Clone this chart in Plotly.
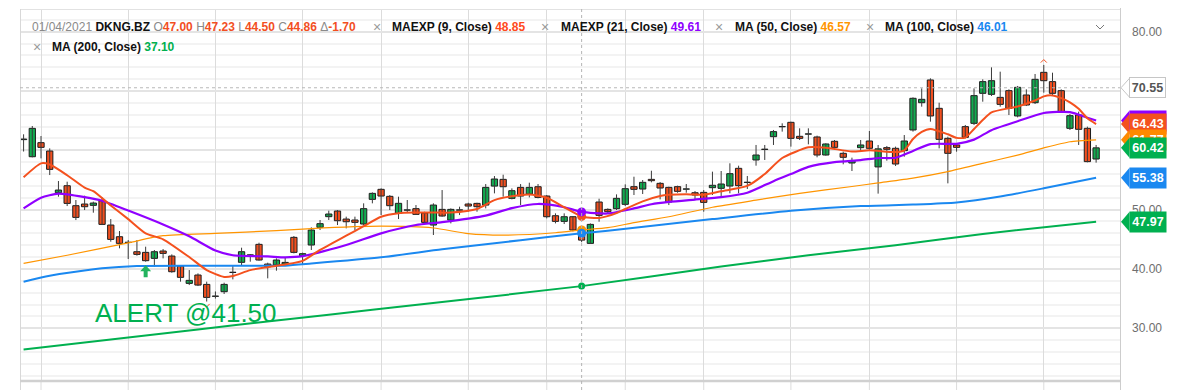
import plotly.graph_objects as go

# ---------------- data ----------------
SYMBOL = "DKNG.BZ"
CROSS_DATE = "01/04/2021"
CROSS_BAR = 64
CROSS_LEVEL = 70.55

OPEN = [61.80, 58.92, 61.29, 59.88, 52.85, 54.03, 50.66, 50.94, 50.72, 51.50,
        47.40, 45.43, 44.45, 42.90, 42.79, 41.78, 43.02, 42.17, 40.49, 37.56,
        38.97, 37.39, 35.38, 36.16, 39.40, 41.11, 42.32, 44.14, 40.82, 40.66,
        40.82, 45.32, 42.23, 44.03, 47.01, 48.81, 49.76, 48.41, 48.25, 47.57,
        51.73, 53.42, 52.24, 49.37, 49.91, 50.16, 49.43, 47.40, 50.04, 48.24,
        49.91, 50.94, 51.05, 50.77, 53.97, 55.10, 51.90, 53.75, 52.63, 53.86,
        52.29, 48.97, 48.02, 48.80, 47.00, 44.31, 51.28, 50.04, 50.16, 50.89,
        53.87, 53.47, 55.10, 54.43, 53.75, 53.87, 53.45, 52.85, 52.91, 53.70,
        53.59, 53.98, 56.96, 54.58, 58.37, 60.15, 62.30, 63.97, 64.72, 62.36,
        62.73, 62.25, 59.21, 61.52, 59.49, 57.86, 60.45, 61.57, 57.20, 60.45,
        60.34, 59.94, 63.43, 68.03, 71.86, 67.08, 62.02, 60.90, 63.99, 64.55,
        69.61, 69.44, 68.93, 70.06, 65.79, 69.33, 68.03, 73.15, 71.58, 70.06,
        63.71, 65.96, 63.71, 58.53]
HIGH = [62.70, 64.10, 62.41, 60.33, 54.82, 54.71, 51.62, 52.35, 51.34, 52.07,
        48.41, 46.39, 44.87, 44.87, 43.75, 43.19, 43.35, 42.45, 40.66, 39.81,
        39.25, 37.85, 36.20, 37.68, 40.66, 43.58, 42.51, 44.42, 41.05, 41.78,
        41.95, 45.55, 42.74, 47.01, 48.25, 49.82, 49.93, 48.81, 48.81, 51.06,
        52.91, 53.59, 52.46, 52.18, 51.62, 50.77, 49.65, 51.06, 53.30, 50.21,
        50.49, 51.16, 51.16, 54.31, 55.66, 55.89, 53.58, 54.31, 54.54, 54.31,
        52.46, 49.37, 49.37, 48.92, 47.23, 47.68, 51.84, 50.21, 52.57, 54.26,
        55.55, 54.99, 56.56, 54.65, 53.87, 54.04, 54.32, 53.13, 53.30, 56.40,
        56.51, 57.81, 57.41, 55.67, 60.90, 60.90, 63.43, 64.55, 64.83, 63.71,
        63.71, 62.47, 61.18, 61.74, 59.77, 58.76, 61.74, 63.26, 60.90, 60.73,
        60.62, 62.58, 68.93, 70.45, 72.14, 68.03, 62.30, 61.18, 64.27, 70.45,
        71.97, 73.99, 73.26, 70.28, 70.85, 70.28, 72.87, 74.40, 73.09, 70.28,
        66.12, 66.52, 63.99, 60.90]
LOW = [59.80, 58.81, 58.64, 55.83, 52.18, 50.60, 48.24, 49.93, 49.48, 47.40,
       44.59, 43.47, 41.67, 42.23, 41.22, 40.37, 41.78, 39.36, 37.85, 37.28,
       37.11, 34.50, 35.00, 35.77, 38.24, 40.66, 41.22, 41.39, 38.41, 39.70,
       40.66, 42.62, 40.66, 43.19, 46.56, 48.25, 47.40, 46.84, 46.56, 47.40,
       51.06, 49.09, 49.93, 48.41, 49.54, 49.09, 47.68, 45.72, 48.80, 47.68,
       49.08, 49.65, 49.65, 50.21, 52.74, 52.18, 51.73, 50.77, 52.06, 51.90,
       48.52, 47.68, 47.57, 46.33, 44.50, 44.20, 47.96, 49.26, 49.93, 50.61,
       52.46, 52.63, 54.60, 51.73, 50.77, 52.85, 52.85, 51.73, 49.65, 52.47,
       52.19, 52.75, 52.75, 53.48, 57.41, 58.37, 60.90, 63.15, 60.62, 61.74,
       61.01, 58.82, 59.10, 60.06, 57.64, 56.51, 59.77, 60.06, 52.70, 58.25,
       57.35, 58.93, 63.15, 67.36, 64.83, 60.33, 54.43, 59.77, 62.02, 64.27,
       68.20, 69.16, 67.36, 65.95, 65.56, 67.47, 67.81, 69.72, 69.16, 66.35,
       63.43, 60.90, 57.97, 57.92]
CLOSE = [61.90, 63.70, 60.50, 56.79, 53.30, 51.05, 48.69, 50.49, 51.11, 47.51,
         44.98, 44.31, 44.50, 42.45, 41.39, 42.90, 42.62, 39.53, 38.58, 38.07,
         37.28, 35.20, 35.42, 37.39, 39.44, 42.90, 42.36, 41.50, 40.37, 41.50,
         41.10, 42.79, 42.57, 46.56, 47.63, 49.26, 48.13, 47.96, 47.85, 50.16,
         52.74, 52.29, 50.66, 51.06, 49.95, 49.20, 47.85, 50.77, 48.92, 50.04,
         49.95, 50.60, 50.49, 53.75, 55.16, 53.86, 53.19, 52.29, 53.75, 52.06,
         48.80, 48.02, 48.80, 46.56, 44.86, 47.51, 49.03, 49.65, 51.90, 53.53,
         53.42, 54.60, 54.88, 53.64, 51.28, 53.08, 53.49, 52.46, 51.22, 54.10,
         54.32, 56.06, 54.04, 54.62, 59.21, 60.19, 63.15, 64.01, 62.02, 62.02,
         62.77, 59.21, 61.07, 60.50, 58.82, 58.26, 60.90, 60.34, 60.25, 60.17,
         57.69, 61.57, 68.77, 68.60, 65.79, 61.85, 59.49, 60.50, 62.19, 69.22,
         71.58, 71.74, 67.75, 67.08, 70.62, 67.64, 71.97, 71.74, 69.61, 66.52,
         65.84, 63.54, 58.09, 60.42]
BARS = list(range(len(CLOSE)))

EMA9_BAR = [0, 2, 3, 5, 7, 8, 10, 12, 14, 16, 19, 21, 23, 24, 26, 28, 30, 32, 34, 37,
            39, 41, 43, 45, 47, 49, 52, 54, 56, 58, 60, 62, 64, 66, 68, 69, 71, 73, 74, 76,
            78, 80, 83, 85, 87, 90, 92, 95, 97, 100, 101, 102, 103, 104, 106, 107, 108, 109, 110, 111,
            114, 116, 117, 118, 119, 120, 121, 122, 123]
EMA9_VAL = [55.45, 57.8, 57.6, 55.8, 53.7, 53.1, 50.7, 48.4, 46.0, 45.0, 42.0, 39.8, 38.65, 38.8, 39.8, 40.3, 40.75, 41.35, 43.2, 45.6,
            47.2, 48.8, 49.4, 49.5, 49.5, 49.5, 50.1, 51.6, 52.25, 52.55, 52.0, 50.4, 48.85, 48.6, 49.4, 50.1, 51.4, 52.3, 52.5, 52.6,
            52.5, 53.1, 54.0, 56.0, 58.7, 60.5, 60.45, 59.8, 60.0, 59.7, 60.0, 61.9, 63.1, 63.6, 62.7, 62.1, 62.15, 63.6, 65.1, 66.4,
            67.4, 68.4, 69.1, 69.25, 68.8, 68.1, 67.0, 65.4, 64.43]

EMA21_BAR = [0, 2, 4, 7, 9, 12, 16, 19, 22, 24, 28, 30, 32, 37, 41, 45, 48, 53, 56, 59,
             62, 64, 67, 70, 72, 74, 77, 80, 83, 86, 88, 90, 93, 96, 98, 100, 102, 104, 107, 109,
             111, 114, 117, 120, 122, 123]
EMA21_VAL = [50.2, 52.0, 52.7, 52.1, 51.5, 49.85, 47.5, 45.5, 43.1, 42.3, 42.1, 41.95, 42.15, 44.03, 46.0, 47.4, 47.9, 49.0, 50.25, 50.95,
             50.4, 49.61, 49.35, 50.2, 50.9, 51.3, 51.7, 52.1, 52.85, 54.8, 56.0, 57.2, 58.0, 58.35, 58.7, 58.75, 59.9, 61.05, 61.1, 61.8,
             63.4, 64.9, 66.3, 66.45, 65.5, 65.02]

MA50_BAR = [0, 5, 12, 16, 22, 29, 33, 41, 47, 51, 55, 61, 64, 67, 70, 74, 79, 84, 89, 95,
            98, 102, 106, 110, 114, 117, 120, 123]
MA50_VAL = [40.95, 42.3, 44.4, 45.6, 46.0, 46.45, 46.8, 47.2, 46.9, 45.95, 45.7, 46.1, 46.57, 46.95, 47.8, 48.8, 50.4, 51.6, 52.75, 53.9,
            54.5, 55.3, 56.4, 57.8, 59.2, 60.4, 61.45, 61.77]

MA100_BAR = [0, 3, 9, 13, 20, 30, 33, 41, 48, 57, 64, 67, 79, 88, 96, 102, 107, 112, 117, 123]
MA100_VAL = [37.85, 38.85, 40.1, 40.5, 40.55, 40.55, 40.9, 41.95, 43.3, 44.85, 46.01, 46.45, 48.4, 49.8, 50.6, 50.85, 51.2, 52.2, 53.6, 55.38]

MA200_BAR = [0, 20, 29, 40, 64, 80, 90, 100, 110, 123]
MA200_VAL = [26.4, 29.8, 31.3, 33.1, 37.10, 40.4, 42.3, 44.0, 45.9, 47.97]

GRID_BARS = [2, 12, 22, 32, 41, 51, 60, 69, 78, 88, 97, 107, 117]
Y_TICKS = [30, 40, 50, 60, 70, 80]

ALERT_TEXT = "ALERT @41.50"
ALERT_BAR = 14
ALERT_TIP = 40.6
HIGH_MARK = (117, 75.3)
LOW_MARK = (21, 33.6)

# ---------------- styling / geometry ----------------
FONT = "Liberation Sans, Arial, Helvetica, sans-serif"
UP, DOWN = "#12ab50", "#f24f1f"
C_EMA9, C_EMA21, C_MA50, C_MA100, C_MA200 = "#f4511e", "#9000ff", "#ff9500", "#1a88f0", "#00b04f"
GRAY = "#8a8a8a"

OFF = 8                      # page body margin of the html page
W, H = 1199 - OFF, 390 - OFF
ML, MT = 20 - OFF, 9 - OFF
PW, PH = 1100, 372
MR, MB = W - ML - PW, H - MT - PH
Y_RANGE = [21.1, 83.83]
X_RANGE = [-0.41, 125.74]
DATA_PER_PX = (Y_RANGE[1] - Y_RANGE[0]) / PH
BAR_PER_PX = (X_RANGE[1] - X_RANGE[0]) / PW


def xp(px):  # screen pixel -> paper x
    return (px - OFF - ML) / PW


def yp(py):  # screen pixel -> paper y
    return (H - MB - (py - OFF)) / PH


def at(bars, vals, b):
    return vals[bars.index(b)]


fig = go.Figure()

# wicks
wx, wy = [], []
for i, lo, hi in zip(BARS, LOW, HIGH):
    wx += [i, i, None]
    wy += [lo, hi, None]
fig.add_trace(go.Scatter(x=wx, y=wy, mode="lines", line=dict(color="#3a3a3a", width=1),
                         hoverinfo="skip", showlegend=False))

# bodies
base = [min(o, c) for o, c in zip(OPEN, CLOSE)]
height = [max(abs(c - o), 0.04) for o, c in zip(OPEN, CLOSE)]
colors = [UP if c >= o else DOWN for o, c in zip(OPEN, CLOSE)]
fig.add_trace(go.Bar(x=BARS, y=height, base=base, width=0.72,
                     marker=dict(color=colors, line=dict(color="#1c1c1c", width=1)),
                     hoverinfo="skip", showlegend=False))

# studies
for bars, vals, col, wd in [(MA200_BAR, MA200_VAL, C_MA200, 2),
                            (MA100_BAR, MA100_VAL, C_MA100, 2),
                            (MA50_BAR, MA50_VAL, C_MA50, 1.2),
                            (EMA21_BAR, EMA21_VAL, C_EMA21, 2.2),
                            (EMA9_BAR, EMA9_VAL, C_EMA9, 2)]:
    fig.add_trace(go.Scatter(x=bars, y=vals, mode="lines",
                             line=dict(color=col, width=wd, shape="spline", smoothing=0.6),
                             hoverinfo="skip", showlegend=False))

# crosshair dots
for bars, vals, col, sz in [(MA200_BAR, MA200_VAL, C_MA200, 7),
                            (EMA9_BAR, EMA9_VAL, C_EMA9, 9),
                            (EMA21_BAR, EMA21_VAL, C_EMA21, 9),
                            (MA50_BAR, MA50_VAL, C_MA50, 9),
                            (MA100_BAR, MA100_VAL, C_MA100, 9)]:
    fig.add_trace(go.Scatter(x=[CROSS_BAR], y=[at(bars, vals, CROSS_BAR)], mode="markers",
                             marker=dict(color=col, size=sz), hoverinfo="skip", showlegend=False))

shapes = []
ann = []

# frame lines
shapes.append(dict(type="line", xref="paper", yref="paper", x0=0, x1=1, y0=yp(9.5), y1=yp(9.5),
                   line=dict(color="#e2e2e2", width=1)))
shapes.append(dict(type="line", xref="paper", yref="paper", x0=xp(20.5), x1=xp(20.5), y0=yp(390), y1=yp(9),
                   line=dict(color="#d8d8d8", width=1)))
shapes.append(dict(type="line", xref="paper", yref="paper", x0=xp(1120.5), x1=xp(1120.5), y0=yp(390), y1=yp(8),
                   line=dict(color="#cdcdcd", width=1)))
for g in GRID_BARS:
    shapes.append(dict(type="line", xref="x", yref="paper", x0=g, x1=g, y0=yp(390), y1=0,
                       line=dict(color="#dcdcdc", width=1)))
shapes.append(dict(type="line", xref="paper", yref="paper", x0=0, x1=1, y0=yp(381), y1=yp(381),
                   line=dict(color="#d0d0d0", width=2.5)))

# crosshair
shapes.append(dict(type="line", xref="x", yref="paper", x0=CROSS_BAR, x1=CROSS_BAR, y0=yp(390), y1=1,
                   line=dict(color="#b4b4b4", width=1, dash="dot")))
shapes.append(dict(type="line", xref="paper", yref="y", x0=0, x1=1, y0=CROSS_LEVEL, y1=CROSS_LEVEL,
                   line=dict(color="#b8b8b8", width=1, dash="dot")))

# chevron at top right of legend
shapes.append(dict(type="path", xref="paper", yref="paper",
                   path=f"M {xp(1096)},{yp(25)} L {xp(1100)},{yp(29)} L {xp(1104)},{yp(25)}",
                   line=dict(color="#777777", width=1)))

# period high / low chevrons
dx, dy = 3 * BAR_PER_PX, 3 * DATA_PER_PX
hx, hy = HIGH_MARK
lx, ly = LOW_MARK
shapes.append(dict(type="path", xref="x", yref="y",
                   path=f"M {hx - dx},{hy - dy} L {hx},{hy} L {hx + dx},{hy - dy}",
                   line=dict(color=DOWN, width=1)))
shapes.append(dict(type="path", xref="x", yref="y",
                   path=f"M {lx - dx},{ly + dy} L {lx},{ly} L {lx + dx},{ly + dy}",
                   line=dict(color=DOWN, width=1)))

# alert arrow (stem + head) at the alert bar
sx = 2 * BAR_PER_PX
hwx = 5.5 * BAR_PER_PX
shapes.append(dict(type="path", xref="x", yref="y",
                   path=(f"M {ALERT_BAR},{ALERT_TIP} "
                         f"L {ALERT_BAR + hwx},{ALERT_TIP - 6 * DATA_PER_PX} "
                         f"L {ALERT_BAR + sx},{ALERT_TIP - 6 * DATA_PER_PX} "
                         f"L {ALERT_BAR + sx},{ALERT_TIP - 12 * DATA_PER_PX} "
                         f"L {ALERT_BAR - sx},{ALERT_TIP - 12 * DATA_PER_PX} "
                         f"L {ALERT_BAR - sx},{ALERT_TIP - 6 * DATA_PER_PX} "
                         f"L {ALERT_BAR - hwx},{ALERT_TIP - 6 * DATA_PER_PX} Z"),
                   fillcolor="#22b35e", line=dict(width=0), layer="above"))

# legend row 1
ohlc = (f"<span style='color:{GRAY}'>{CROSS_DATE}</span> <b>{SYMBOL}</b> "
        f"<span style='color:{GRAY}'>O</span><span style='color:{DOWN}'><b>{OPEN[CROSS_BAR]:.2f}</b></span> "
        f"<span style='color:{GRAY}'>H</span><span style='color:{DOWN}'><b>{HIGH[CROSS_BAR]:.2f}</b></span> "
        f"<span style='color:{GRAY}'>L</span><span style='color:{DOWN}'><b>{LOW[CROSS_BAR]:.2f}</b></span> "
        f"<span style='color:{GRAY}'>C</span><span style='color:{DOWN}'><b>{CLOSE[CROSS_BAR]:.2f}</b></span> "
        f"<span style='color:{GRAY}'>Δ</span><span style='color:{DOWN}'><b>{CLOSE[CROSS_BAR]-CLOSE[CROSS_BAR-1]:.2f}</b></span>")
ann.append(dict(x=xp(30), y=yp(27), text=ohlc))

items = [
    (377, 390, 27, "MAEXP (9, Close)", at(EMA9_BAR, EMA9_VAL, CROSS_BAR), "#ff4a1c"),
    (545, 559, 27, "MAEXP (21, Close)", at(EMA21_BAR, EMA21_VAL, CROSS_BAR), C_EMA21),
    (719, 733, 27, "MA (50, Close)", at(MA50_BAR, MA50_VAL, CROSS_BAR), C_MA50),
    (870, 883, 27, "MA (100, Close)", at(MA100_BAR, MA100_VAL, CROSS_BAR), C_MA100),
    (37, 50, 47, "MA (200, Close)", at(MA200_BAR, MA200_VAL, CROSS_BAR), C_MA200),
]
for xx, xt, yy, name, val, col in items:
    ann.append(dict(x=xp(xx), y=yp(yy), text="×", xanchor="center",
                    font=dict(family=FONT, size=14, color="#9a9a9a")))
    ann.append(dict(x=xp(xt), y=yp(yy),
                    text=f"<b>{name}</b> <span style='color:{col}'><b>{val:.2f}</b></span>"))

for a in ann:
    a.setdefault("xanchor", "left")
    a.setdefault("font", dict(family=FONT, size=12, color="#111111"))
    a.update(xref="paper", yref="paper", yanchor="middle", showarrow=False)

# right price labels (purple one is fully covered by the red one in the reference)
HALF = 10 * DATA_PER_PX
labels = [(EMA21_VAL[-1], C_EMA21, False), (EMA9_VAL[-1], C_EMA9, True), (MA50_VAL[-1], "#ff8a00", True),
          (CLOSE[-1], "#00b050", True), (MA100_VAL[-1], C_MA100, True), (MA200_VAL[-1], "#00b050", True)]
for v, col, show_text in labels:
    shapes.append(dict(type="path", xref="paper", yref="y",
                       path=f"M {xp(1121)},{v} L {xp(1129.5)},{v + HALF} L {xp(1129.5)},{v - HALF} Z",
                       fillcolor=col, line=dict(width=0), layer="above"))
    ann.append(dict(x=xp(1129), y=v, xref="paper", yref="y", xanchor="left", yanchor="middle",
                    text=f"<b>{v:.2f}</b>" if show_text else "", showarrow=False, width=36, height=20,
                    bgcolor=col, borderpad=0, font=dict(family=FONT, size=12.5, color="white")))

# crosshair price label
shapes.append(dict(type="path", xref="paper", yref="y",
                   path=(f"M {xp(1121)},{CROSS_LEVEL} L {xp(1130)},{CROSS_LEVEL + HALF} "
                         f"L {xp(1130)},{CROSS_LEVEL - HALF} Z"),
                   fillcolor="white", line=dict(color="#c6c6c6", width=1), layer="above"))
ann.append(dict(x=xp(1129), y=CROSS_LEVEL, xref="paper", yref="y", xanchor="left", yanchor="middle",
                text=f"<b>{CROSS_LEVEL:.2f}</b>", showarrow=False, width=35, height=19, bgcolor="white",
                bordercolor="#c6c6c6", borderwidth=1, borderpad=0,
                font=dict(family=FONT, size=12.5, color="#555555")))

# alert text
ann.append(dict(x=xp(93), y=yp(313), xref="paper", yref="paper", xanchor="left", yanchor="middle",
                text=ALERT_TEXT, showarrow=False, font=dict(family=FONT, size=26, color="#00b050")))

fig.update_layout(
    width=W, height=H,
    margin=dict(l=ML, r=MR, t=MT, b=MB, pad=0),
    paper_bgcolor="white", plot_bgcolor="white",
    showlegend=False, hovermode=False, barmode="overlay",
    font=dict(family=FONT),
    shapes=shapes, annotations=ann,
    xaxis=dict(range=X_RANGE, tickvals=GRID_BARS, showticklabels=False, showgrid=True,
               gridcolor="#dcdcdc", gridwidth=1, zeroline=False, showline=False, ticks="",
               fixedrange=True),
    yaxis=dict(range=Y_RANGE, side="right", tickvals=Y_TICKS, ticktext=[f"{t:.2f}" for t in Y_TICKS],
               showgrid=True, gridcolor="#e4e4e4", gridwidth=2, zeroline=False, showline=False,
               ticks="", ticklabelstandoff=11, tickfont=dict(family=FONT, size=12, color="#6e6e6e"),
               minor=dict(tickvals=list(range(22, 84, 2)), showgrid=True, gridcolor="#f3f3f3", gridwidth=2),
               fixedrange=True),
)

fig.write_html("out.html", config={"displayModeBar": False})
